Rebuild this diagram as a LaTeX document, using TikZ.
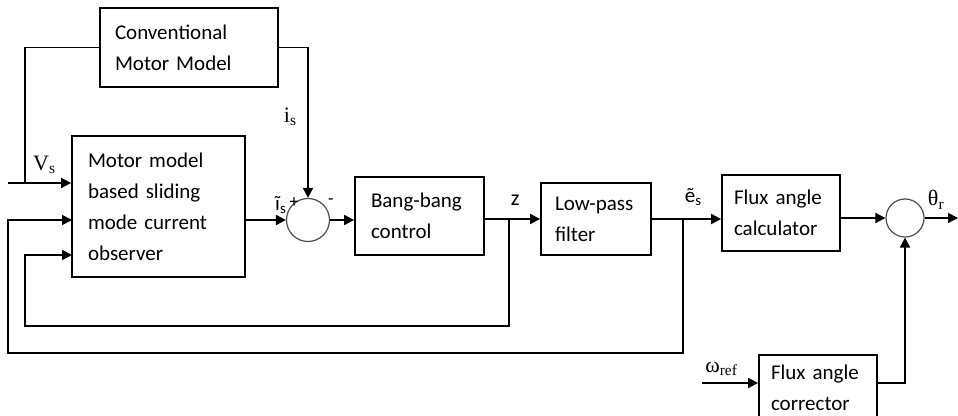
\documentclass[tikz,border=0pt]{standalone}
\usepackage{fontspec}
\setmainfont{Carlito}
\newfontfamily\symfont{Liberation Serif}
\usetikzlibrary{arrows.meta}

\begin{document}
\begin{tikzpicture}[
        x=0.5pt, y=-0.5pt,
        box/.style={draw, rectangle, align=left, inner xsep=8pt, font=\fontsize{10.5}{15.5}\selectfont},
        sum/.style={draw=black!70, circle, line width=0.6pt, inner sep=0pt},
        arrow/.style={-{Triangle[length=5pt,width=5pt]}},
        lbl/.style={font=\symfont\fontsize{11}{13}\selectfont, inner sep=1pt},
        sign/.style={font=\fontsize{9}{11}\selectfont, inner sep=0pt},
        line width=0.9pt
    ]
\useasboundingbox (0,0) rectangle (958,416);

\node[box, text width=74pt, minimum height=39.5pt, inner xsep=7.5pt] (conv) at (189, 47.5) {Conventional\\Motor Model};
        \node[box, text width=70.5pt, minimum height=70.5pt] (motor) at (158.5, 206.5) {Motor model\\based sliding\\mode current\\observer};
        \node[sum, minimum size=21.5pt] (sum1) at (308, 220) {};
        \node[box, text width=48.5pt, minimum height=39pt] (bang) at (419.5, 216) {Bang-bang\\control};
        \node[box, text width=41pt, minimum height=36pt, inner xsep=7pt] (lowpass) at (596, 219) {Low-pass\\filter};
        \node[box, text width=47pt, minimum height=38pt, inner xsep=6pt] (calc) at (781, 213) {Flux angle\\calculator};
        \node[sum, minimum size=19pt] (sum2) at (905, 218) {};
        \node[box, text width=47pt, minimum height=32.5pt, inner xsep=6pt] (corr) at (818, 387.5) {Flux angle\\corrector};

        % free ends, branch points and corners
        \coordinate (vsin) at (8, 183);
        \coordinate (vsjoin) at (25, 183);
        \coordinate (zjoin) at (509, 219);
        \coordinate (zturn) at (25, 326);
        \coordinate (zin) at (72, 255);
        \coordinate (ejoin) at (683, 219);
        \coordinate (eturn) at (8, 353);
        \coordinate (ein) at (72, 220);
        \coordinate (wref) at (702, 383);
        \coordinate (thout) at (958, 218);

\draw[arrow] (vsin) -- node[lbl, pos=0.58, above=3pt] {V\textsubscript{s}} (vsin -| motor.west);
        \draw (conv.west) -| (vsjoin);
        \draw[arrow] (conv.east) -| node[lbl, pos=0.73, left=4pt] {i\textsubscript{s}} (sum1.north);
        \draw[arrow] (motor.east |- sum1) -- (sum1.west);
        \node[sign, font=\fontsize{10.5}{12}\selectfont] (ihat) at (281, 205) {ĩ\textsubscript{s}};
        \node[sign] (plus) at (294, 203) {+};
        \node[sign] (minus) at (331, 202) {-};
        \draw[arrow] (sum1.east) -- (sum1 -| bang.west);
        \draw[arrow] (bang.east |- lowpass) -- node[pos=0.55, above=3pt, font=\fontsize{11}{13}\selectfont] {z} (lowpass.west);
        \draw[arrow] (zjoin) |- (zturn) |- (zin);
        \draw[arrow] (lowpass.east) -- node[pos=0.6, above=3pt, font=\fontsize{10.5}{12}\selectfont] {ẽ\textsubscript{s}} (lowpass -| calc.west);
        \draw[arrow] (ejoin) |- (eturn) |- (ein);
        \draw[arrow] (calc.east |- sum2) -- (sum2.west);
        \draw[arrow] (sum2.east) -- node[lbl, pos=0.35, above=3pt] {θ\textsubscript{r}} (thout);
        \draw[arrow] (wref) -- node[lbl, pos=0.35, above=2pt] {ω\textsubscript{ref}} (corr.west |- wref);
        \draw[arrow] (corr.east |- wref) -| (sum2.south);

    \end{tikzpicture}
\end{document}
